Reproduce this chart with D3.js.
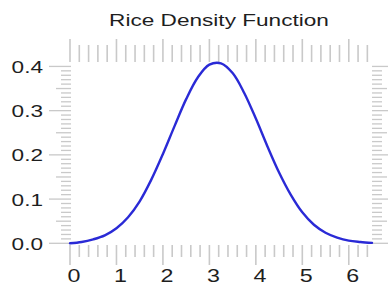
<!DOCTYPE html>
<html>
<head>
<meta charset="utf-8">
<script src="https://cdn.jsdelivr.net/npm/d3@7"></script>
<style>
  html, body { margin: 0; padding: 0; background: #fff; }
  text { font-family: "Liberation Sans", Arial, sans-serif; fill: #1e1e1e; }
</style>
</head>
<body>
<div id="chart"></div>
<script>
// values
const xValues = [0, 0.25, 0.5, 0.75, 1, 1.25, 1.5, 1.75, 2, 2.25, 2.5, 2.75, 3, 3.25,
  3.5, 3.75, 4, 4.25, 4.5, 4.75, 5, 5.25, 5.5, 5.75, 6, 6.25, 6.5];
const densityValues = [0, 0.003, 0.009, 0.018, 0.034, 0.059, 0.095, 0.144, 0.202, 0.265,
  0.326, 0.375, 0.404, 0.407, 0.385, 0.340, 0.282, 0.219, 0.160, 0.110, 0.070, 0.042,
  0.024, 0.013, 0.006, 0.003, 0.001];
const xTickLabels = ["0", "1", "2", "3", "4", "5", "6"];
const yTickLabels = ["0.0", "0.1", "0.2", "0.3", "0.4"];
const title = "Rice Density Function";

const width = 388, height = 285;
const stretch = 1.33; // text in the reference is drawn wide

const svg = d3.select("#chart").append("svg")
  .attr("width", width)
  .attr("height", height);

const x = d3.scaleLinear().domain([0, 6.5]).range([70, 372]);
const y = d3.scaleLinear().domain([0, 0.41]).range([243.3, 62]);

const tickColor = "#c9c9c9";

// x ticks every 0.2, top and bottom
const xTicks = d3.range(0, 33).map((i) => +(i * 0.2).toFixed(1));
const isWhole = (v) => Math.abs(v - Math.round(v)) < 1e-6;

svg.append("g").selectAll("line")
  .data(xTicks)
  .join("line")
  .attr("x1", (d) => x(d)).attr("x2", (d) => x(d))
  .attr("y1", 245)
  .attr("y2", (d) => (isWhole(d) ? 265 : 257))
  .attr("stroke", tickColor).attr("stroke-width", 1.6);

svg.append("g").selectAll("line")
  .data(xTicks)
  .join("line")
  .attr("x1", (d) => x(d)).attr("x2", (d) => x(d))
  .attr("y1", 62)
  .attr("y2", (d) => (isWhole(d) ? 39 : 45))
  .attr("stroke", tickColor).attr("stroke-width", 1.6);

// y ticks every 0.01, left and right
const yTicks = d3.range(0, 41).map((i) => i / 100);
const yLen = (i) => (i % 10 === 0 ? 22 : i % 5 === 0 ? 15 : 10);

svg.append("g").selectAll("line")
  .data(yTicks)
  .join("line")
  .attr("x1", 71)
  .attr("x2", (d, i) => 71 - yLen(i))
  .attr("y1", (d) => y(d)).attr("y2", (d) => y(d))
  .attr("stroke", tickColor).attr("stroke-width", 1.3);

svg.append("g").selectAll("line")
  .data(yTicks)
  .join("line")
  .attr("x1", 372)
  .attr("x2", (d, i) => 372 + Math.min(yLen(i), 16))
  .attr("y1", (d) => y(d)).attr("y2", (d) => y(d))
  .attr("stroke", tickColor).attr("stroke-width", 1.3);

// tick labels
svg.append("g").selectAll("text")
  .data(xTickLabels)
  .join("text")
  .attr("transform", (d) => `translate(${x(+d) + 4},282) scale(${stretch},1)`)
  .attr("text-anchor", "middle")
  .style("font-size", "17.5px")
  .text((d) => d);

svg.append("g").selectAll("text")
  .data(yTickLabels)
  .join("text")
  .attr("transform", (d) => `translate(43,${y(+d) + 6.5}) scale(${stretch},1)`)
  .attr("text-anchor", "end")
  .style("font-size", "17px")
  .text((d) => d);

// title
svg.append("text")
  .attr("transform", `translate(219,26) scale(${stretch},1)`)
  .attr("text-anchor", "middle")
  .style("font-size", "17px")
  .text(title);

// density curve
const points = xValues.map((v, i) => [v, densityValues[i]]);
const line = d3.line()
  .x((d) => x(d[0]))
  .y((d) => y(d[1]))
  .curve(d3.curveCatmullRom.alpha(0.5));

svg.append("path")
  .datum(points)
  .attr("d", line)
  .attr("fill", "none")
  .attr("stroke", "#2a2ad6")
  .attr("stroke-width", 2.4)
  .attr("stroke-linecap", "round");
</script>
</body>
</html>
